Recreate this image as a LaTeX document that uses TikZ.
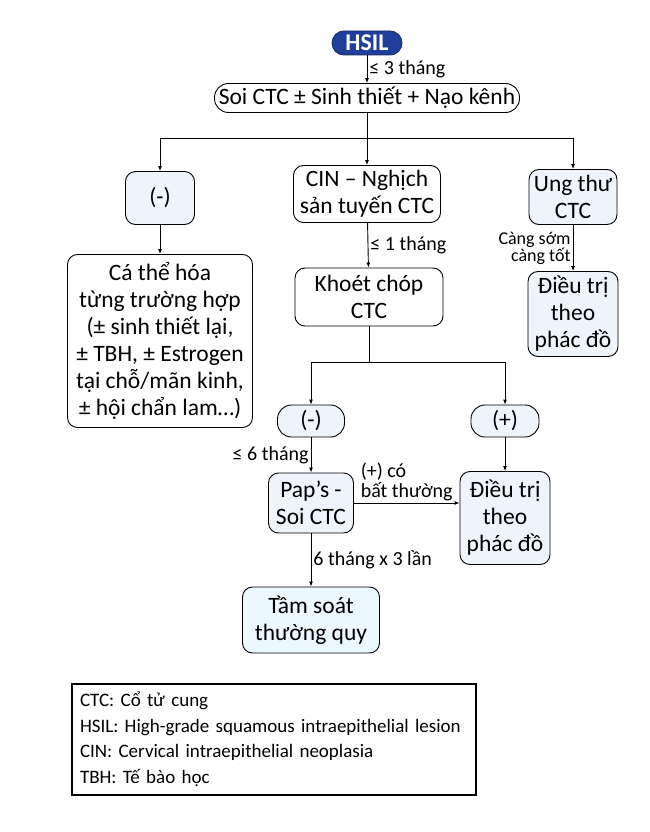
\documentclass[tikz,border=0pt]{standalone}
\usepackage{fontspec}
\setmainfont{Carlito}
\usetikzlibrary{arrows.meta}
\definecolor{hsilblue}{HTML}{1F3F9A}
\definecolor{boxfill}{HTML}{EEF4F9}
\begin{document}
\begin{tikzpicture}[x=1pt, y=-1pt, line width=0.9pt, >={Latex[length=5pt,width=4pt]},
    box/.style = {draw, rounded corners=10pt, fill=boxfill, align=center, inner sep=1pt,
                  font=\fontsize{23.5}{27}\selectfont},
    pill/.style = {box, rounded corners=14pt},
    hsilbox/.style = {draw=hsilblue!70!black, fill=hsilblue, text=white, rounded corners=12pt,
                  minimum width=70, minimum height=24, inner sep=1pt, font=\fontsize{24}{24}\selectfont\bfseries},
    lbl/.style = {font=\fontsize{20}{20}\selectfont, inner sep=2pt},
    smalllbl/.style = {font=\fontsize{18}{17}\selectfont, inner sep=2pt},
    legend/.style = {draw, line width=1.1pt, align=left, inner sep=8pt, text width=388,
                  minimum height=111, font=\fontsize{19}{25.5}\selectfont}]
    \useasboundingbox (0,0) rectangle (650,832);
    % top
    \node[hsilbox] (hsil) at (367,43) {HSIL};
    \node[pill, fill=white, minimum width=305, minimum height=29] (soi) at (367,98) {Soi CTC ± Sinh thiết + Nạo kênh};
    \coordinate (split1) at (367,138);
    % first level
    \node[box, minimum width=69, minimum height=53] (neg1) at (160,198) {(-)};
    \node[box, fill=white, minimum width=147, minimum height=57] (cin) at (367,194) {CIN – Nghịch\\sản tuyến CTC};
    \node[box, minimum width=88, minimum height=55] (ung) at (573,197) {Ung thư\\CTC};
    % second level
    \node[box, fill=white, minimum width=185, minimum height=173] (cathe) at (160,341) {Cá thể hóa\\từng trường hợp\\(± sinh thiết lại,\\± TBH, ± Estrogen\\tại chỗ/mãn kinh,\\± hội chẩn lam…)};
    \node[box, fill=white, minimum width=148, minimum height=58] (khoet) at (369,297) {Khoét chóp\\CTC};
    \node[box, minimum width=90, minimum height=85] (dieutri1) at (573,314) {Điều trị\\theo\\phác đồ};
    \coordinate (split2) at (369,362);
    % after conization
    \node[pill, minimum width=67, minimum height=32] (neg2) at (311,421) {(-)};
    \node[pill, minimum width=68, minimum height=32] (pos2) at (505,421) {(+)};
    \node[box, minimum width=85, minimum height=60] (pap) at (311,503) {Pap’s -\\Soi CTC};
    \node[box, minimum width=90, minimum height=93] (dieutri2) at (505,518) {Điều trị\\theo\\phác đồ};
    \node[box, fill=cyan!8, minimum width=137, minimum height=66] (tamsoat) at (311,620) {Tầm soát\\thường quy};
    % legend
    \node[legend] (legend) at (274,739.5) {CTC: Cổ tử cung\\HSIL: High-grade squamous intraepithelial lesion\\CIN: Cervical intraepithelial neoplasia\\TBH: Tế bào học};
    % connectors
    \draw[->] (hsil) -- node[lbl, right] {≤ 3 tháng} (soi);
    \draw (soi) -- (split1);
    \draw[->] (split1) -| (neg1);
    \draw[->] (split1) -- (cin);
    \draw[->] (split1) -| (ung);
    \draw[->] (neg1) -- (cathe);
    \draw[->] (cin) -- node[lbl, right] {≤ 1 tháng} (khoet);
    \draw[->] (ung) -- node[smalllbl, left, align=right] {Càng sớm\\càng tốt} (dieutri1);
    \draw (khoet) -- (split2);
    \draw[->] (split2) -| (neg2);
    \draw[->] (split2) -| (pos2);
    \draw[->] (neg2) -- node[lbl, left] {≤ 6 tháng} (pap);
    \draw[->] (pos2) -- (dieutri2);
    \draw[->] (pap.east) -- node[lbl, above, align=left] {(+) có\\bất thường} (pap.east -| dieutri2.west);
    \draw[->] (pap) -- node[lbl, right] {6 tháng x 3 lần} (tamsoat);
\end{tikzpicture}
\end{document}
